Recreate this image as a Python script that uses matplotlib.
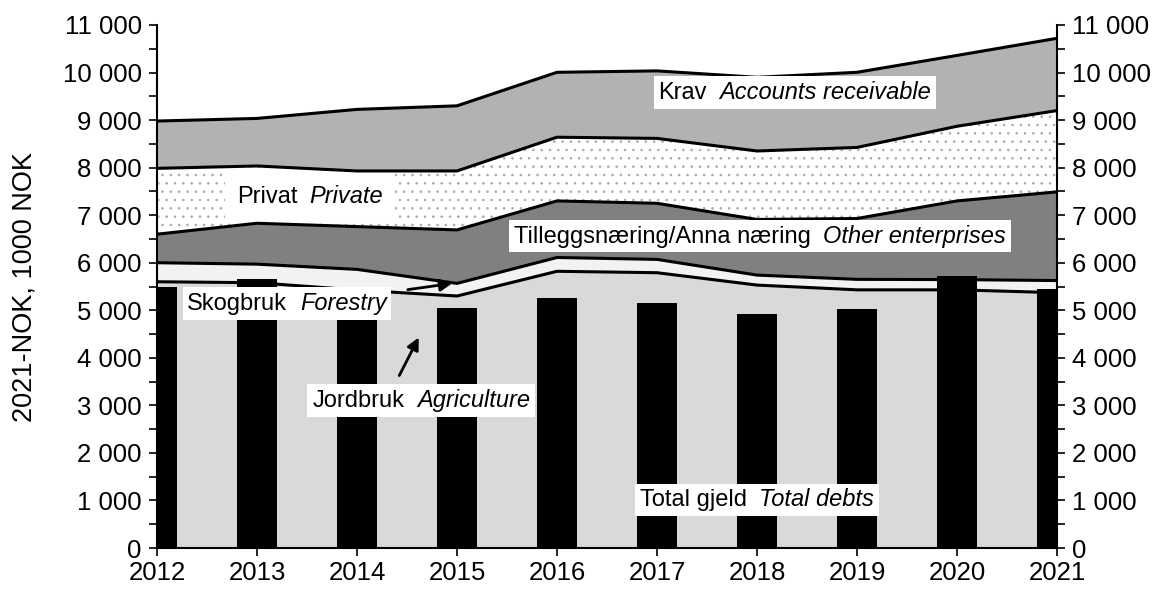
import numpy as np
import matplotlib
matplotlib.use("Agg")
import matplotlib.pyplot as plt
from matplotlib.ticker import FuncFormatter, MultipleLocator
from matplotlib.offsetbox import TextArea, HPacker, AnnotationBbox

plt.rcParams["font.family"] = ["Liberation Sans", "DejaVu Sans"]
plt.rcParams["hatch.linewidth"] = 0.6

# Data (2021-NOK, 1000 NOK)
years = [2012, 2013, 2014, 2015, 2016, 2017, 2018, 2019, 2020, 2021]
agriculture = [5600, 5580, 5425, 5300, 5820, 5790, 5530, 5430, 5430, 5370]
forestry = [400, 390, 435, 265, 290, 280, 210, 220, 215, 255]
other_enterprises = [600, 860, 900, 1125, 1190, 1180, 1170, 1280, 1655, 1865]
private = [1385, 1205, 1170, 1240, 1340, 1365, 1440, 1495, 1570, 1710]
receivables = [995, 1000, 1295, 1370, 1365, 1420, 1550, 1580, 1490, 1520]
total_debts = [5490, 5650, 5450, 5050, 5260, 5150, 4920, 5020, 5720, 5450]

layers = [agriculture, forestry, other_enterprises, private, receivables]
colors = ["#d9d9d9", "#f2f2f2", "#808080", "white", "#b2b2b2"]
hatches = [None, None, None, "..", None]

FS = 17      # labels inside the plot
FS_TICK = 18.5

fig = plt.figure(figsize=(11.64, 5.91), dpi=100)
ax = fig.add_axes([157 / 1164, 1 - 548 / 591, 900 / 1164, 523 / 591])

x = np.array(years)
cum = np.cumsum(np.array(layers, dtype=float), axis=0)
lower = np.zeros(len(years))
for top, col, h in zip(cum, colors, hatches):
    ax.fill_between(x, lower, top, facecolor=col, edgecolor="#a8a8a8" if h else "none",
                    hatch=h, linewidth=0, zorder=1)
    ax.plot(x, top, color="black", lw=2.2, zorder=2)
    lower = top

ax.bar(x, total_debts, width=0.4, color="black", zorder=3)

ax.set_xlim(2012, 2021)
ax.set_ylim(0, 11000)
ax.set_xticks(years)
ax.yaxis.set_major_locator(MultipleLocator(1000))
ax.yaxis.set_minor_locator(MultipleLocator(500))
ax.yaxis.set_major_formatter(FuncFormatter(lambda v, p: f"{int(v):,}".replace(",", " ")))
ax.yaxis.set_ticks_position("both")
ax.tick_params(axis="y", which="both", direction="out", length=6, width=1.2,
               labelright=True, labelsize=FS_TICK, pad=5)
ax.tick_params(axis="x", direction="out", length=6, width=1.2, labelsize=FS_TICK, pad=3)
ax.spines["top"].set_visible(False)
for s in ["left", "right", "bottom"]:
    ax.spines[s].set_linewidth(1.5)
ax.set_ylabel("2021-NOK, 1000 NOK", fontsize=19.5, labelpad=18)


def label(plain, italic, xy, pad=0.35):
    box = HPacker(children=[TextArea(plain, textprops=dict(fontsize=FS)),
                            TextArea(italic, textprops=dict(fontsize=FS, style="italic"))],
                  align="baseline", pad=0, sep=9)
    ab = AnnotationBbox(box, xy, xycoords="data", frameon=True, pad=pad,
                        bboxprops=dict(facecolor="white", edgecolor="none"), zorder=5)
    ax.add_artist(ab)


label("Krav", "Accounts receivable", (2018.38, 9580))
label("Privat", "Private", (2013.53, 7400), pad=0.85)
label("Tilleggsnæring/Anna næring", "Other enterprises", (2018.03, 6560))
label("Skogbruk", "Forestry", (2013.30, 5150))
label("Jordbruk", "Agriculture", (2014.64, 3105))
label("Total gjeld", "Total debts", (2018.0, 1010))

arrow = dict(arrowstyle="-|>", color="black", lw=2, mutation_scale=18)
ax.annotate("", xy=(2014.98, 5573), xytext=(2014.48, 5426), arrowprops=arrow, zorder=6)
ax.annotate("", xy=(2014.63, 4480), xytext=(2014.41, 3575), arrowprops=arrow, zorder=6)

fig.savefig("out.png", dpi=100)
